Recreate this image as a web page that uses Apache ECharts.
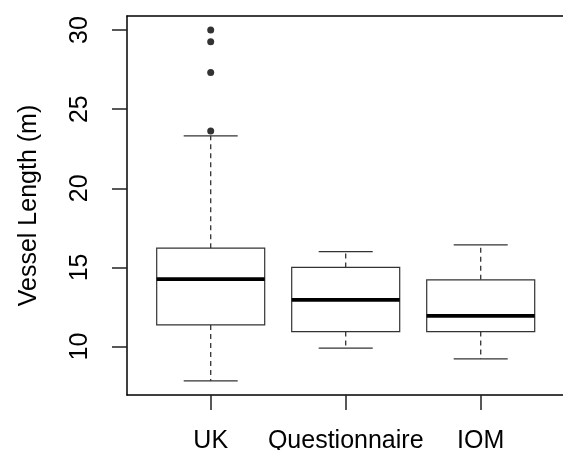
<!DOCTYPE html>
<html>
<head>
<meta charset="utf-8">
<script src="https://cdn.jsdelivr.net/npm/echarts@6/dist/echarts.min.js"></script>
<style>
  html, body { margin: 0; padding: 0; background: #fff; overflow: hidden; }
  #chart { width: 563px; height: 450px; }
</style>
</head>
<body>
<div id="chart"></div>
<script>
// Groups shown along the x axis
const categories = ['UK', 'Questionnaire', 'IOM'];
// Five-number summaries per group: [lower whisker, Q1, median, Q3, upper whisker]
const lowerWhisker = [7.83, 9.9, 9.22];
const q1Values     = [11.37, 10.95, 10.95];
const medians      = [14.26, 12.95, 11.94];
const q3Values     = [16.22, 15.0, 14.22];
const upperWhisker = [23.32, 16.0, 16.43];
// Outlying observations: [group index (1-based), length]
const outliers = [[1, 23.63], [1, 27.32], [1, 29.26], [1, 30.0]];
// Y tick values
const yTicks = [10, 15, 20, 25, 30];

const boxData = categories.map((c, i) => [
  i + 1, lowerWhisker[i], q1Values[i], medians[i], q3Values[i], upperWhisker[i]
]);

const FONT = 'Liberation Sans, Arial, sans-serif';
const halfBox = 0.4;   // box half width in x units
const halfCap = 0.2;   // whisker cap half width
const X_MIN = 0.38, X_MAX = 3.654;

function renderBox(params, api) {
  const x = api.value(0);
  const lo = api.value(1), q1 = api.value(2), med = api.value(3), q3 = api.value(4), hi = api.value(5);
  const p = (xv, yv) => api.coord([xv, yv]);
  const lineStyle = { stroke: '#333', lineWidth: 1.2, fill: null };
  const dashStyle = { stroke: '#333', lineWidth: 1.3, lineDash: [5, 4] };
  const seg = (a, b, style) => ({
    type: 'line',
    shape: { x1: a[0], y1: a[1], x2: b[0], y2: b[1] },
    style: style
  });
  const tl = p(x - halfBox, q3), br = p(x + halfBox, q1);
  return {
    type: 'group',
    children: [
      seg(p(x, q3), p(x, hi), dashStyle),
      seg(p(x, q1), p(x, lo), dashStyle),
      seg(p(x - halfCap, hi), p(x + halfCap, hi), lineStyle),
      seg(p(x - halfCap, lo), p(x + halfCap, lo), lineStyle),
      {
        type: 'rect',
        shape: { x: tl[0], y: tl[1], width: br[0] - tl[0], height: br[1] - tl[1] },
        style: { stroke: '#333', lineWidth: 1.2, fill: '#fff' }
      },
      seg(p(x - halfBox, med), p(x + halfBox, med), { stroke: '#000', lineWidth: 3.6 })
    ]
  };
}

const chart = echarts.init(document.getElementById('chart'), null, { renderer: 'canvas' });
chart.setOption({
  animation: false,
  backgroundColor: '#fff',
  grid: {
    left: 127, top: 16, right: -6, bottom: 55,
    outerBoundsMode: 'none',
    containLabel: false,
    show: false
  },
  xAxis: [
    {
      type: 'value',
      min: X_MIN, max: X_MAX,
      axisLine: { show: true, lineStyle: { color: '#000', width: 1.5 } },
      axisTick: { show: true, length: 15, customValues: [1, 2, 3], lineStyle: { color: '#222', width: 1.5 } },
      axisLabel: {
        customValues: [1, 2, 3],
        formatter: v => categories[Math.round(v) - 1] || '',
        fontFamily: FONT, fontSize: 25, color: '#000', margin: 34
      },
      splitLine: { show: false }
    },
    {
      // top frame line
      type: 'value',
      position: 'top',
      min: X_MIN, max: X_MAX,
      axisLine: { show: true, lineStyle: { color: '#000', width: 1.5 } },
      axisTick: { show: false },
      axisLabel: { show: false },
      splitLine: { show: false }
    }
  ],
  yAxis: {
    type: 'value',
    min: 6.94, max: 30.89,
    name: 'Vessel Length (m)',
    nameLocation: 'middle',
    nameRotate: 90,
    nameGap: 85,
    nameTextStyle: { fontFamily: FONT, fontSize: 25, color: '#000' },
    axisLine: { show: true, lineStyle: { color: '#000', width: 1.5 } },
    axisTick: { show: true, length: 15, customValues: yTicks, lineStyle: { color: '#222', width: 1.5 } },
    axisLabel: {
      customValues: yTicks,
      rotate: 90,
      fontFamily: FONT, fontSize: 25, color: '#000', margin: 34
    },
    splitLine: { show: false }
  },
  series: [
    {
      type: 'custom',
      renderItem: renderBox,
      data: boxData,
      encode: { x: 0, y: [1, 2, 3, 4, 5] },
      z: 2
    },
    {
      type: 'scatter',
      data: outliers,
      symbol: 'circle',
      symbolSize: 7,
      itemStyle: { color: '#000' },
      z: 3
    }
  ]
});
</script>
</body>
</html>
